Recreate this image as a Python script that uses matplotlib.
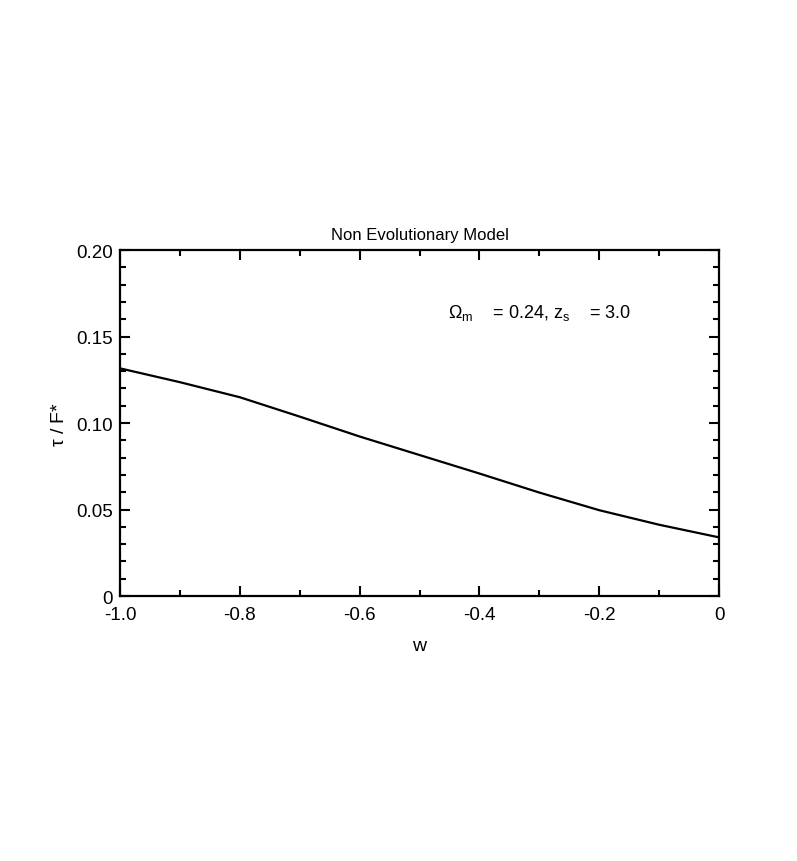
import matplotlib
matplotlib.use('Agg')
import matplotlib.pyplot as plt
from matplotlib.ticker import MultipleLocator, FixedFormatter, FixedLocator

# values
w_vals = [-1.0, -0.9, -0.8, -0.7, -0.6, -0.5, -0.4, -0.3, -0.2, -0.1, 0.0]
tau_vals = [0.1316, 0.1236, 0.1149, 0.1037, 0.0922, 0.0815, 0.0708, 0.0598, 0.0496, 0.0412, 0.0339]

x_ticks = [-1.0, -0.8, -0.6, -0.4, -0.2, 0.0]
x_labels = ['-1.0', '-0.8', '-0.6', '-0.4', '-0.2', '0']
y_ticks = [0.0, 0.05, 0.10, 0.15, 0.20]
y_labels = ['0', '0.05', '0.10', '0.15', '0.20']

plt.rcParams['font.family'] = ['Liberation Sans', 'DejaVu Sans']
plt.rcParams['mathtext.fontset'] = 'custom'
plt.rcParams['mathtext.rm'] = 'Liberation Sans'
plt.rcParams['mathtext.it'] = 'Liberation Sans'

fig = plt.figure(figsize=(7.97, 8.62), dpi=100)
ax = fig.add_axes([0.1506, 0.3074, 0.7516, 0.4014])

ax.plot(w_vals, tau_vals, color='black', linewidth=1.6)

ax.set_xlim(-1.0, 0.0)
ax.set_ylim(0.0, 0.2)
ax.xaxis.set_major_locator(FixedLocator(x_ticks))
ax.xaxis.set_major_formatter(FixedFormatter(x_labels))
ax.yaxis.set_major_locator(FixedLocator(y_ticks))
ax.yaxis.set_major_formatter(FixedFormatter(y_labels))
ax.xaxis.set_minor_locator(MultipleLocator(0.1))
ax.yaxis.set_minor_locator(MultipleLocator(0.01))

ax.tick_params(which='both', direction='in', top=True, right=True, width=1.5, labelsize=13.5)
ax.tick_params(axis='x', pad=7)
ax.tick_params(axis='y', pad=5)
ax.tick_params(which='major', length=7)
ax.tick_params(which='minor', length=4.5)
for sp in ax.spines.values():
    sp.set_linewidth(1.6)

ax.set_title('Non Evolutionary Model', fontsize=12, pad=8)
ax.set_xlabel('w', fontsize=14, labelpad=10)
ax.set_ylabel(r'$\tau$ / F*', fontsize=14, labelpad=6)

ax.text(0.548, 0.82, r'$\Omega_\mathrm{m}$    = 0.24, $\mathrm{z}_\mathrm{s}$    = 3.0',
        transform=ax.transAxes, fontsize=13, va='center')

fig.savefig('out.png', dpi=100)
